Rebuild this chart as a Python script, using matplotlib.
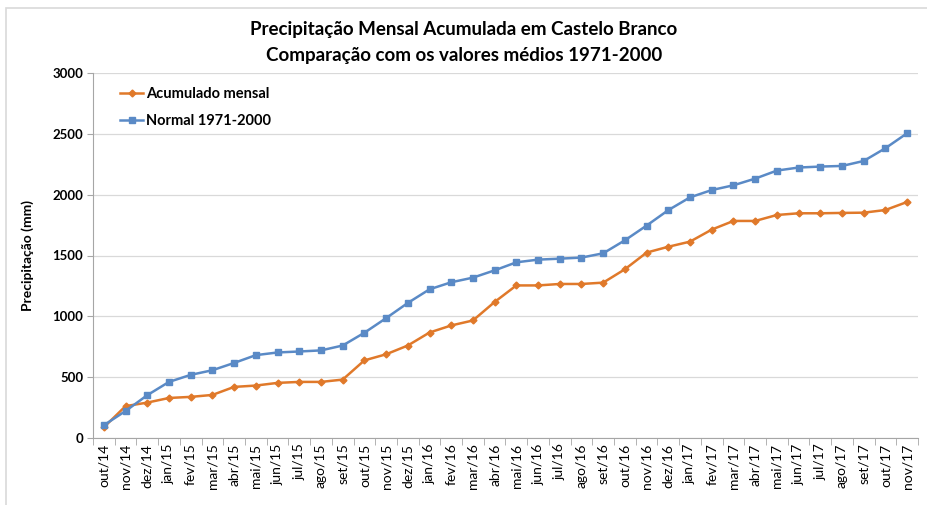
import matplotlib
matplotlib.use("Agg")
import matplotlib.pyplot as plt
from matplotlib.ticker import FixedLocator

meses = ["out/14", "nov/14", "dez/14",
         "jan/15", "fev/15", "mar/15", "abr/15", "mai/15", "jun/15",
         "jul/15", "ago/15", "set/15", "out/15", "nov/15", "dez/15",
         "jan/16", "fev/16", "mar/16", "abr/16", "mai/16", "jun/16",
         "jul/16", "ago/16", "set/16", "out/16", "nov/16", "dez/16",
         "jan/17", "fev/17", "mar/17", "abr/17", "mai/17", "jun/17",
         "jul/17", "ago/17", "set/17", "out/17", "nov/17"]

acumulado = [88, 262, 291, 329, 338, 354, 420, 431, 453, 461, 461, 480,
             638, 688, 760, 867, 925, 966, 1118, 1254, 1254, 1266, 1266, 1277,
             1387, 1524, 1572, 1614, 1713, 1784, 1784, 1833, 1847, 1847,
             1850, 1852, 1874, 1940]

normal = [105, 222, 352, 461, 519, 557, 617, 681, 703, 711, 720, 760,
          865, 985, 1110, 1222, 1280, 1318, 1378, 1444, 1466, 1474, 1483, 1518,
          1625, 1746, 1873, 1978, 2038, 2077, 2132, 2198, 2223, 2231,
          2236, 2277, 2382, 2505]

COR_ACUM = "#E0792A"
COR_NORM = "#5A8AC6"
COR_GRID = "#D9D9D9"
COR_EIXO = "#A6A6A6"

plt.rcParams["font.family"] = ["Lato", "DejaVu Sans"]

fig = plt.figure(figsize=(9.28, 5.05), dpi=100)
ax = fig.add_axes([93 / 928, 1 - 438 / 505, 825 / 928, 365 / 505])

x = list(range(len(meses)))
ax.plot(x, acumulado, color=COR_ACUM, lw=1.8, marker="D", ms=3.5,
        label="Acumulado mensal")
ax.plot(x, normal, color=COR_NORM, lw=1.8, marker="s", ms=3.8,
        label="Normal 1971-2000")

ax.set_xlim(-0.5, len(meses) - 0.5)
ax.set_ylim(0, 3000)
ax.set_yticks(range(0, 3001, 500))
ax.tick_params(axis="y", labelsize=9.5, length=4, color=COR_EIXO, pad=3)
for t in ax.get_yticklabels():
    t.set_fontweight("bold")
ax.set_xticks(x)
ax.set_xticklabels(meses, rotation=90, fontsize=10)
ax.tick_params(axis="x", length=0, pad=4)
ax.xaxis.set_minor_locator(FixedLocator([i - 0.5 for i in range(len(meses) + 1)]))
ax.tick_params(axis="x", which="minor", length=5, color=COR_EIXO)

ax.grid(axis="y", color=COR_GRID, lw=0.9)
ax.set_axisbelow(True)
for s in ("top", "right"):
    ax.spines[s].set_visible(False)
ax.spines["left"].set_color(COR_EIXO)
ax.spines["bottom"].set_color(COR_EIXO)

ax.set_ylabel("Precipitação (mm)", fontsize=10, fontweight="bold", labelpad=13)

fig.text(0.5, 1 - 30 / 505, "Precipitação Mensal Acumulada em Castelo Branco",
         ha="center", va="center", fontsize=13.5, fontweight="bold")
fig.text(0.5, 1 - 55 / 505, "Comparação com os valores médios 1971-2000",
         ha="center", va="center", fontsize=13.5, fontweight="bold")

ax.legend(loc="upper left", bbox_to_anchor=(27 / 825, 0.962), frameon=False,
          borderpad=0, borderaxespad=0, handlelength=1.6, handletextpad=0.2,
          labelspacing=0.9, prop={"weight": "bold", "size": 10.5})

fig.add_artist(plt.Rectangle((6 / 928, -0.1), 1.2, 1.1 - 8 / 505,
                             transform=fig.transFigure, fill=False,
                             ec=COR_GRID, lw=1.2))

fig.savefig("out.png", dpi=100)
